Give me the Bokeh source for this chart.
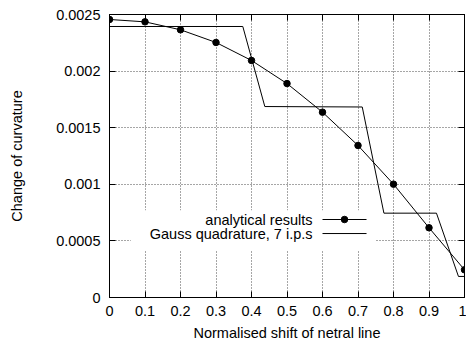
from bokeh.plotting import figure
from bokeh.models import FixedTicker, LinearAxis, Range1d, BoxAnnotation, Label
from bokeh.embed import file_html
from bokeh.resources import INLINE

# analytical results
ana_x = [0.0, 0.1, 0.2, 0.3, 0.4, 0.5, 0.6, 0.7, 0.8, 0.9, 1.0]
ana_y = [0.002456, 0.002435, 0.002365, 0.002253, 0.002094, 0.00189, 0.001637, 0.001343, 0.001001, 0.000616, 0.000245]

# Gauss quadrature, 7 i.p.s
gq_x = [0.0, 0.3755, 0.4375, 0.712, 0.773, 0.921, 0.983, 1.0]
gq_y = [0.002394, 0.002394, 0.001687, 0.001683, 0.000745, 0.000745, 0.000186, 0.000186]

x_ticks = [0.0, 0.1, 0.2, 0.3, 0.4, 0.5, 0.6, 0.7, 0.8, 0.9, 1.0]
x_tick_labels = ["0", "0.1", "0.2", "0.3", "0.4", "0.5", "0.6", "0.7", "0.8", "0.9", "1"]
y_ticks = [0.0, 0.0005, 0.001, 0.0015, 0.002, 0.0025]
y_tick_labels = ["0", "0.0005", "0.001", "0.0015", "0.002", "0.0025"]

FONT = "Liberation Sans"
FS = "14.5px"

p = figure(width=466, height=347, output_backend="svg", toolbar_location=None,
           x_range=Range1d(0, 1), y_range=Range1d(0, 0.0025),
           min_border_left=109, min_border_right=2, min_border_top=14, min_border_bottom=50)
p.outline_line_color = "black"
p.outline_line_width = 1
p.background_fill_color = "white"
p.border_fill_color = "white"

for ax, ticks, labels in ((p.xaxis[0], x_ticks, x_tick_labels), (p.yaxis[0], y_ticks, y_tick_labels)):
    ax.ticker = FixedTicker(ticks=ticks)
    ax.major_label_overrides = {t: l for t, l in zip(ticks, labels)}
    ax.major_tick_in = 6
    ax.major_tick_out = 0
    ax.minor_tick_in = 0
    ax.minor_tick_out = 0
    ax.major_label_text_font = FONT
    ax.major_label_text_font_size = FS
    ax.major_label_text_color = "black"
    ax.axis_label_text_font = FONT
    ax.axis_label_text_font_size = FS
    ax.axis_label_text_font_style = "normal"
    ax.axis_label_text_color = "black"
    ax.axis_line_color = "black"
    ax.major_tick_line_color = "black"

p.xaxis.axis_label = "Normalised shift of netral line"
p.yaxis.axis_label = "Change of curvature"
p.xaxis.major_label_standoff = 8
p.yaxis.major_label_standoff = 9
p.xaxis.axis_label_standoff = 6
p.yaxis.axis_label_standoff = 28

# mirror axes
for loc, ticks in (("above", x_ticks), ("right", y_ticks)):
    a = LinearAxis(ticker=FixedTicker(ticks=ticks), major_tick_in=6, major_tick_out=0,
                   minor_tick_in=0, minor_tick_out=0, major_label_text_font_size="0px",
                   major_label_standoff=0, axis_line_color="black", major_tick_line_color="black")
    a.major_label_overrides = {t: "" for t in ticks}
    p.add_layout(a, loc)

p.xgrid.ticker = FixedTicker(ticks=x_ticks)
p.ygrid.ticker = FixedTicker(ticks=y_ticks)
for g in (p.xgrid[0], p.ygrid[0]):
    g.grid_line_color = "black"
    g.grid_line_alpha = 0.7
    g.grid_line_dash = "1 2"
    g.grid_line_width = 1

p.line(gq_x, gq_y, line_color="black", line_width=1)
p.line(ana_x, ana_y, line_color="black", line_width=1)
p.scatter(ana_x, ana_y, size=6.5, fill_color="black", line_color="black")

# legend (gnuplot style: text right-aligned, sample on the right)
box = BoxAnnotation(left=0.06, right=0.75, bottom=0.000415, top=0.00077,
                    fill_color="white", fill_alpha=1.0, line_color=None, level="underlay")
p.add_layout(box)
leg_names = ["analytical results", "Gauss quadrature, 7 i.p.s"]
leg_y = [0.000689, 0.000565]
for name, yy in zip(leg_names, leg_y):
    p.add_layout(Label(x=0.572, y=yy, text=name, text_align="right", text_baseline="middle",
                       text_font=FONT, text_font_size=FS, text_color="black"))
    p.line([0.600, 0.724], [yy, yy], line_color="black", line_width=1)
p.scatter([0.662], [leg_y[0]], size=6.5, fill_color="black", line_color="black")

open("out.html", "w").write(file_html(p, INLINE))
